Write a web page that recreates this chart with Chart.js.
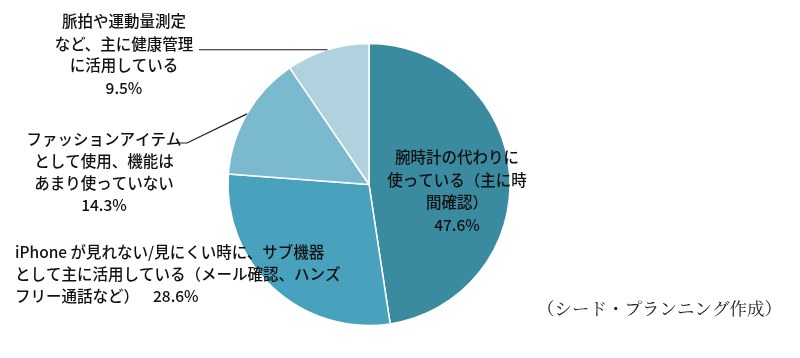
<!DOCTYPE html>
<html>
<head>
<meta charset="utf-8">
<script src="https://cdn.jsdelivr.net/npm/chart.js@4/dist/chart.umd.min.js"></script>
<style>
  html, body { margin: 0; padding: 0; background: #ffffff; }
  #wrap { width: 800px; height: 358px; position: relative; }
</style>
</head>
<body>
<div id="wrap"><canvas id="c" width="800" height="358"></canvas></div>
<script>
// ---- data ----
const categories = [
  ["腕時計の代わりに", "使っている（主に時", "間確認）"],
  ["iPhone が見れない/見にくい時に、サブ機器", "として主に活用している（メール確認、ハンズ", "フリー通話など）"],
  ["ファッションアイテム", "として使用、機能は", "あまり使っていない"],
  ["脈拍や運動量測定", "など、主に健康管理", "に活用している"]
];
const values = [47.6, 28.6, 14.3, 9.5];
const valueLabels = ["47.6%", "28.6%", "14.3%", "9.5%"];
const colors = ["#3a8aa0", "#48a2bd", "#7bb9cf", "#afd2de"];
const sourceNote = "（シード・プランニング作成）";

const FONT = '"Noto Sans CJK JP", "Noto Sans", sans-serif';

const labelPlugin = {
  id: 'pieLabels',
  afterDatasetsDraw(chart) {
    const ctx = chart.ctx;
    const arcs = chart.getDatasetMeta(0).data;
    const edge = (arc) => {
      const mid = (arc.startAngle + arc.endAngle) / 2;
      return { x: arc.x + Math.cos(mid) * arc.outerRadius, y: arc.y + Math.sin(mid) * arc.outerRadius };
    };
    ctx.save();
    ctx.fillStyle = '#111111';
    ctx.textBaseline = 'middle';
    ctx.font = '500 15.5px ' + FONT;

    // slice 0: inside label (centered)
    ctx.textAlign = 'center';
    const l0 = [...categories[0], valueLabels[0]];
    const ys0 = [157, 180, 202, 225];
    l0.forEach((t, i) => ctx.fillText(t, 457, ys0[i]));

    // slice 1: left-aligned outside
    ctx.textAlign = 'left';
    const ys1 = [252, 274, 296];
    categories[1].forEach((t, i) => ctx.fillText(t, 15, ys1[i]));
    ctx.fillText(valueLabels[1], 153, 296);

    // slice 2
    ctx.textAlign = 'center';
    const l2 = [...categories[2], valueLabels[2]];
    const ys2 = [139, 161, 183, 205];
    l2.forEach((t, i) => ctx.fillText(t, 104, ys2[i]));

    // slice 3
    const l3 = [...categories[3], valueLabels[3]];
    const ys3 = [21, 44, 65, 88];
    l3.forEach((t, i) => ctx.fillText(t, 124, ys3[i]));

    // leader lines
    ctx.strokeStyle = '#1a1a1a';
    ctx.lineWidth = 1.2;
    const e3 = edge(arcs[3]);
    ctx.beginPath();
    ctx.moveTo(199, e3.y);
    ctx.lineTo(e3.x, e3.y);
    ctx.stroke();

    const e2 = edge(arcs[2]);
    ctx.beginPath();
    ctx.moveTo(178, 143);
    ctx.lineTo(187, 143);
    ctx.lineTo(e2.x, e2.y);
    ctx.stroke();

    // source note
    ctx.textAlign = 'left';
    ctx.font = '17.5px "Noto Serif CJK JP", "Noto Sans CJK JP", serif';
    ctx.fillStyle = '#222';
    ctx.fillText(sourceNote, 537, 308);
    ctx.restore();
  }
};

new Chart(document.getElementById('c'), {
  type: 'pie',
  data: {
    labels: categories.map(c => c.join('')),
    datasets: [{
      data: values,
      backgroundColor: colors,
      borderColor: '#ffffff',
      borderWidth: 1.5
    }]
  },
  options: {
    responsive: false,
    animation: false,
    radius: 141,
    layout: { padding: { left: 0, right: 62, top: 11, bottom: 0 } },
    plugins: {
      legend: { display: false },
      tooltip: { enabled: false }
    }
  },
  plugins: [labelPlugin]
});
</script>
</body>
</html>
